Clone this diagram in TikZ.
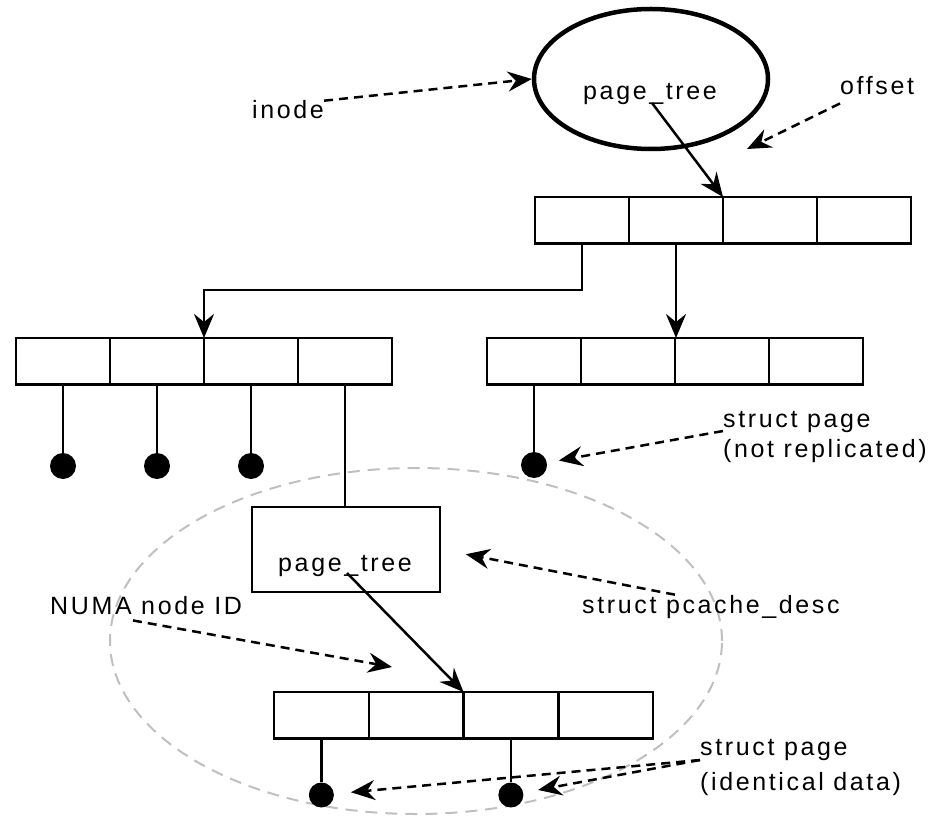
\documentclass[tikz,border=0pt]{standalone}
\usepackage{fontspec}
\setmainfont{Liberation Sans}[LetterSpace=10.5]
\usetikzlibrary{arrows.meta,shapes.geometric}

\begin{document}
\begin{tikzpicture}[x=1pt,y=-1pt,
  lbl/.style={font=\fontsize{25}{30}\selectfont, inner sep=0pt, anchor=base west},
  cell/.style={draw, line width=2.5pt, minimum width=94pt, minimum height=46.5pt, inner sep=0pt, outer sep=0pt},
  link/.style={line width=2.5pt},
  arr/.style={link, -{Stealth[length=24pt,width=20pt,inset=8pt]}},
  darr/.style={arr, dash pattern=on 9pt off 6pt},
  dot/.style={circle, fill, minimum size=26pt, inner sep=0pt},
  numa/.style={ellipse, draw=black!25, line width=2pt, dash pattern=on 12pt off 8pt,
               minimum width=612pt, minimum height=346pt, inner sep=0pt},
]
\useasboundingbox (0,0) rectangle (936,818);

% replication region
\node[numa] (region) at (416,641) {};

% inode with its page tree root
\node[ellipse, draw, line width=4.5pt, minimum width=234pt, minimum height=140pt, inner sep=0pt] (ell) at (651,79) {};
\node[lbl, anchor=base] (root) at (650,100) {page\_tree};
\coordinate (rootptr) at (652,103);

% top-level radix node
\node[cell, anchor=north west] (t1) at (535,197) {};
\node[cell, anchor=west] (t2) at (t1.east) {};
\node[cell, anchor=west] (t3) at (t2.east) {};
\node[cell, anchor=west] (t4) at (t3.east) {};

% second level: left node
\node[cell, anchor=north west] (l1) at (16,338) {};
\node[cell, anchor=west] (l2) at (l1.east) {};
\node[cell, anchor=west] (l3) at (l2.east) {};
\node[cell, anchor=west] (l4) at (l3.east) {};

% second level: right node
\node[cell, anchor=north west] (r1) at (487,338) {};
\node[cell, anchor=west] (r2) at (r1.east) {};
\node[cell, anchor=west] (r3) at (r2.east) {};
\node[cell, anchor=west] (r4) at (r3.east) {};

% struct pages hanging off the second level
\node[dot] (ld1) at (l1.south |- 0,466) {};
\node[dot] (ld2) at (l2.south |- 0,466) {};
\node[dot] (ld3) at (l3.south |- 0,466) {};
\node[dot] (rd1) at (r1.south |- 0,465) {};

% per-node page cache descriptor
\node[draw, line width=2.5pt, minimum width=188pt, minimum height=85pt, inner sep=0pt] (pc) at (346,549.5) {};
\node[lbl, anchor=base] (pct) at (345,571) {page\_tree};
\coordinate (pcptr) at (347,573);

% replicated leaf node
\node[cell, anchor=north west, minimum width=94.75pt] (b1) at (274,692) {};
\node[cell, anchor=west, minimum width=94.75pt] (b2) at (b1.east) {};
\node[cell, anchor=west, minimum width=94.75pt] (b3) at (b2.east) {};
\node[cell, anchor=west, minimum width=94.75pt] (b4) at (b3.east) {};
\node[dot, minimum size=25pt] (bd1) at (b1.south |- 0,795) {};
\node[dot, minimum size=25pt] (bd3) at (b3.south |- 0,795) {};

% labels
\node[lbl] (inode) at (252,119) {inode};
\node[lbl] (offset) at (840,95) {offset};
\node[lbl] (sp1) at (723,427) {struct page};
\node[lbl] (sp2) at (723,457) {(not replicated)};
\node[lbl] (pcd) at (582,613) {struct pcache\_desc};
\node[lbl] (numaid) at (50,614) {NUMA node ID};
\node[lbl] (id1) at (700,755) {struct page};
\node[lbl] (id2) at (700,790) {(identical data)};

\coordinate (offtip) at (747,149);
\coordinate (numatip) at (392,667);
\coordinate (jn) at (0,290);

% tree links
\draw[arr] (rootptr) -- (t2.north east);
\draw[arr] (t1.south) -- (t1.south |- jn) -| (l2.north east);
\draw[arr] (t2.south) -- (t2.south |- r2.north);
\draw[link] (l1.south) -- (ld1);
\draw[link] (l2.south) -- (ld2);
\draw[link] (l3.south) -- (ld3);
\draw[link] (r1.south) -- (rd1);
\draw[link] (l4.south) -- (l4.south |- pc.north);
\draw[arr] (pcptr) -- (b3.north west);
\draw[link] (b1.south) -- (bd1);
\draw[link] (b3.south) -- (bd3);

% annotation arrows
\draw[darr] (inode.north east) -- (ell.west);
\draw[darr] ([yshift=-8pt]offset.south west) -- (offtip);
\draw[darr, shorten >=12pt] ([yshift=-4pt]sp1.base west) -- (rd1);
\draw[darr, shorten >=25pt] ([xshift=93pt]pcd.north west) -- (pc.east);
\draw[darr] ([xshift=83pt,yshift=-6pt]numaid.south west) -- (numatip);
\draw[darr, shorten >=17pt] ([yshift=-5pt]id1.base west) -- (bd1);
\draw[darr, shorten >=15pt] ([yshift=-5pt]id1.base west) -- (bd3);
\end{tikzpicture}
\end{document}
